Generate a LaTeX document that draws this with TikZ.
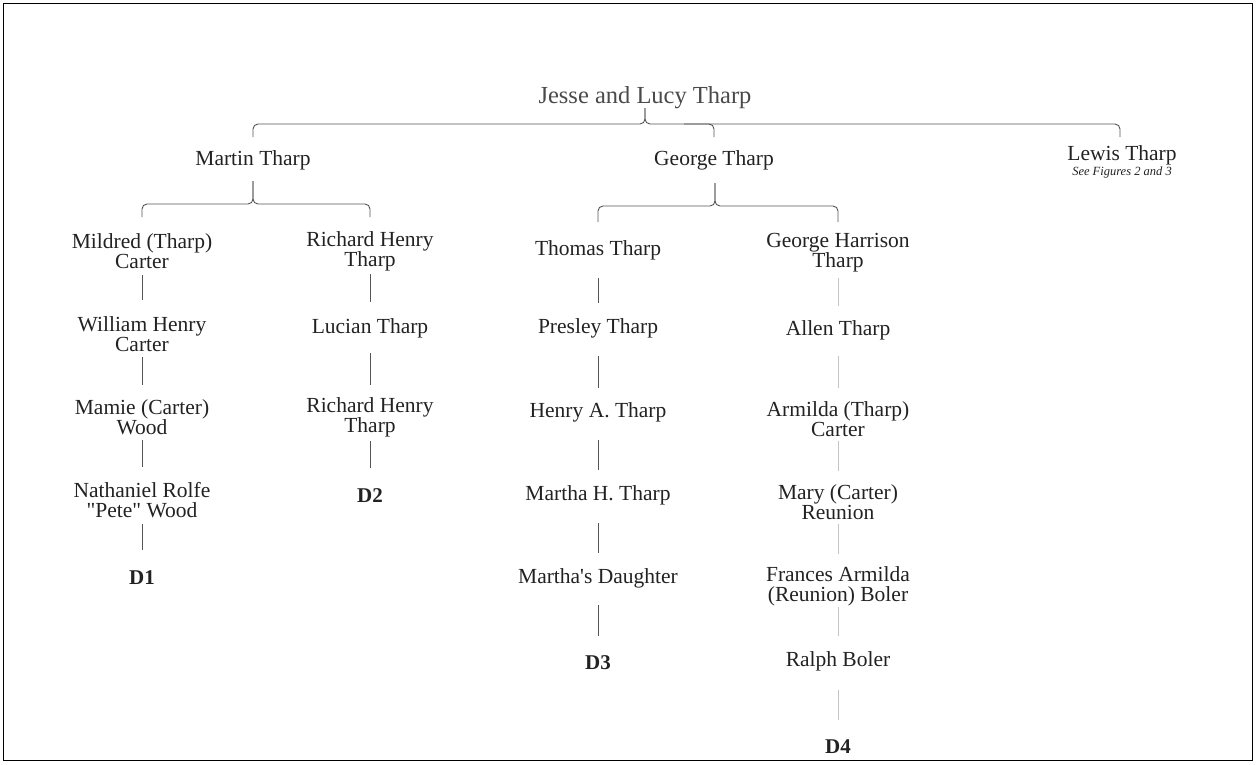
\documentclass[tikz,border=0pt]{standalone}
\usepackage{fontspec}
\setmainfont{Liberation Serif}
\definecolor{txt}{HTML}{222222}
\definecolor{ttl}{HTML}{4A4A4A}
\definecolor{lnk}{HTML}{555555}
\definecolor{lnklight}{HTML}{C4C4C4}
\newcommand\lk[5][link]{\draw[#1] ([yshift=-#4pt]#2.center) -- ([yshift=#5pt]#3.center);}
\begin{document}
\begin{tikzpicture}[x=1pt,y=-1pt,
  per/.style={font=\fontsize{21.5}{19.8}\selectfont, align=center, text=txt, inner sep=0pt},
  ttlnode/.style={font=\fontsize{24.5}{28}\selectfont, text=ttl, inner sep=0pt},
  dnode/.style={font=\fontsize{21}{18}\selectfont\bfseries, text=txt, inner sep=0pt},
  note/.style={font=\fontsize{12.5}{14}\selectfont\itshape, text=txt, inner sep=0pt},
  link/.style={draw=lnk, line width=0.9pt},
  lightlink/.style={draw=lnklight, line width=0.8pt},
  brace/.style={draw=lnk, line width=0.9pt, rounded corners=5pt}]
\useasboundingbox (0,0) rectangle (1256,764);
\draw[black, line width=1pt] (3,3) rectangle (1252,760);

\node[ttlnode] (title) at (645,98) {Jesse and Lucy Tharp};
\node[per] (martin) at (253,160) {Martin Tharp};
\node[per] (george) at (714,160) {George Tharp};
\node[per] (lewis) at (1122,155) {Lewis Tharp};
\node[note] (lewisnote) at (1122,172) {See Figures 2 and 3};

% column 1
\node[per] (a1) at (142,251) {Mildred (Tharp)\\Carter};
\node[per] (a2) at (142,334) {William Henry\\Carter};
\node[per] (a3) at (142,417) {Mamie (Carter)\\Wood};
\node[per] (a4) at (142,500) {Nathaniel Rolfe\\\textquotedbl Pete\textquotedbl\ Wood};
\node[dnode] (d1) at (142,578) {D1};
% column 2
\node[per] (b1) at (370,251) {Richard Henry\\Tharp};
\node[per] (b2) at (370,328) {Lucian Tharp};
\node[per] (b3) at (370,417) {Richard Henry\\Tharp};
\node[dnode] (d2) at (370,496) {D2};
% column 3
\node[per] (c1) at (598,250) {Thomas Tharp};
\node[per] (c2) at (598,328) {Presley Tharp};
\node[per] (c3) at (598,412) {Henry A. Tharp};
\node[per] (c4) at (598,495) {Martha H. Tharp};
\node[per] (c5) at (598,578) {Martha\textquotesingle s Daughter};
\node[dnode] (d3) at (598,663) {D3};
% column 4
\node[per] (e1) at (838,253) {George Harrison\\Tharp};
\node[per] (e2) at (838,330) {Allen Tharp};
\node[per] (e3) at (838,419) {Armilda (Tharp)\\Carter};
\node[per] (e4) at (838,502) {Mary (Carter)\\Reunion};
\node[per] (e5) at (838,586) {Frances Armilda\\(Reunion) Boler};
\node[per] (e6) at (838,661) {Ralph Boler};
\node[dnode] (d4) at (838,747) {D4};

% top brace
\coordinate (tj) at (645,124);
\draw[brace] ([yshift=-13pt]martin.center |- tj) -- (martin.center |- tj) -- (tj) -- ([yshift=16pt]tj);
\draw[brace] ([yshift=-13pt]1120,124) -- (1120,124) -- (tj) -- ([yshift=16pt]tj);
\draw[brace] ([xshift=-30pt]george.center |- tj) -- (george.center |- tj) -- ([yshift=-13pt]george.center |- tj);

% Martin brace
\coordinate (mj) at (253,204);
\draw[brace] ([yshift=-13pt]a1.center |- mj) -- (a1.center |- mj) -- (mj) -- ([yshift=23pt]mj);
\draw[brace] ([yshift=-13pt]b1.center |- mj) -- (b1.center |- mj) -- (mj) -- ([yshift=23pt]mj);

% George brace
\coordinate (gj) at (715,206);
\draw[brace] ([yshift=-16pt]c1.center |- gj) -- (c1.center |- gj) -- (gj) -- ([yshift=23pt]gj);
\draw[brace] ([yshift=-16pt]e1.center |- gj) -- (e1.center |- gj) -- (gj) -- ([yshift=23pt]gj);

% column links
\lk{a1}{a2}{24}{34}
\lk{a2}{a3}{23}{32}
\lk{a3}{a4}{23}{33}
\lk{a4}{d1}{24}{28}
\lk{b1}{b2}{23}{26}
\lk{b2}{b3}{25}{32}
\lk{b3}{d2}{24}{28}
\lk{c1}{c2}{28}{25}
\lk{c2}{c3}{28}{24}
\lk{c3}{c4}{28}{25}
\lk{c4}{c5}{28}{25}
\lk{c5}{d3}{27}{27}
\lk[lightlink]{e1}{e2}{25}{24}
\lk[lightlink]{e2}{e3}{26}{31}
\lk[lightlink]{e3}{e4}{22}{31}
\lk[lightlink]{e4}{e5}{22}{32}
\lk[lightlink]{e5}{e6}{21}{25}
\lk[lightlink]{e6}{d4}{29}{27}
\end{tikzpicture}
\end{document}
